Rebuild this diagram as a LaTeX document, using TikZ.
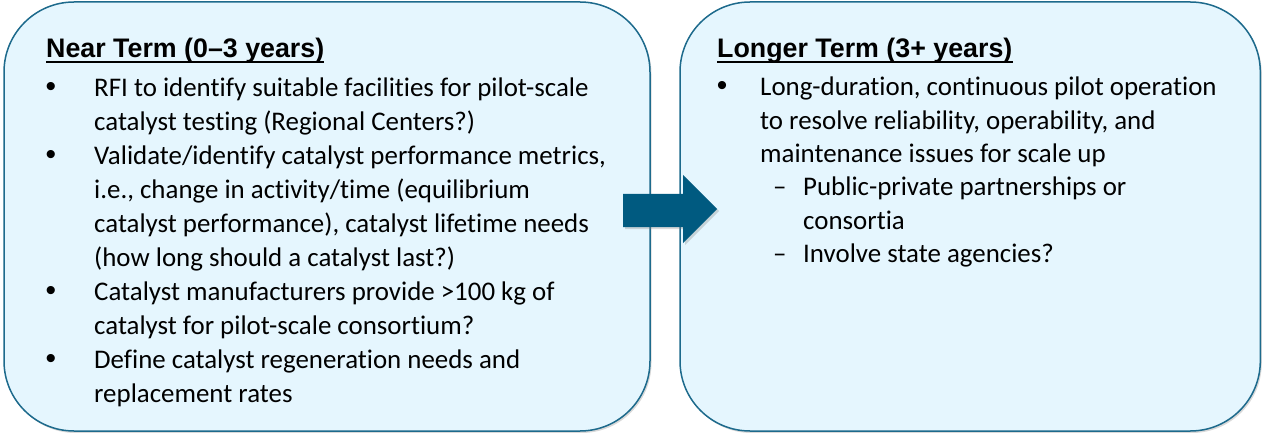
\documentclass[tikz,border=0pt]{standalone}
\usepackage{fontspec}
\setmainfont{Carlito}[Ligatures={NoCommon}]
\newfontfamily\headfont{Liberation Sans}
\usetikzlibrary{shadows}
\definecolor{boxfill}{HTML}{E5F6FE}
\definecolor{boxline}{HTML}{1D6A8C}
\definecolor{arrowblue}{HTML}{005A80}
\tikzset{
  panel/.style={draw=boxline, line width=1.5pt, fill=boxfill, rounded corners=70pt,
    drop shadow={shadow xshift=1.5pt, shadow yshift=-2pt, opacity=0.3, fill=gray}},
  head/.style={font=\headfont\bfseries\fontsize{26.8}{30}\selectfont, anchor=base west, inner sep=0pt},
  body/.style={font=\fontsize{26.9}{33}\selectfont, anchor=base west, inner sep=0pt},
  bul/.style={font=\headfont\fontsize{30}{34}\selectfont, anchor=base, inner sep=0pt},
  ul/.style={line width=2pt}
}
\begin{document}
\begin{tikzpicture}[x=1pt,y=-1pt]
\useasboundingbox (0,0) rectangle (1262,433);
% panels
\path[panel] (4,2) rectangle (650,431);
\path[panel] (680,2) rectangle (1260.3,431);
% arrow
\path[fill=arrowblue, drop shadow={shadow xshift=2pt, shadow yshift=-2pt, opacity=0.3, fill=gray}]
  (623,194) -- (683,194) -- (683,175) -- (717,209) -- (683,243) -- (683,227) -- (623,227) -- cycle;
% left panel
\node[head] (h1) at (46,58) {Near Term (0–3 years)};
\draw[ul] ([yshift=-4pt]h1.base west) -- ([yshift=-4pt]h1.base east);
\node[bul] (b1) at (51,97) {•};
\node[body] (l1) at (94,97) {RFI to identify suitable facilities for pilot-scale};
\node[body] (l2) at (94,130.9) {catalyst testing (Regional Centers?)};
\node[bul] (b2) at (51,164.8) {•};
\node[body] (l3) at (94,164.8) {Validate/identify catalyst performance metrics,};
\node[body] (l4) at (94,198.7) {i.e., change in activity/time (equilibrium};
\node[body] (l5) at (94,232.6) {catalyst performance), catalyst lifetime needs};
\node[body] (l6) at (94,266.5) {(how long should a catalyst last?)};
\node[bul] (b3) at (51,300.4) {•};
\node[body] (l7) at (94,300.4) {Catalyst manufacturers provide >100 kg of};
\node[body] (l8) at (94,334.3) {catalyst for pilot-scale consortium?};
\node[bul] (b4) at (51,368.2) {•};
\node[body] (l9) at (94,368.2) {Define catalyst regeneration needs and};
\node[body] (l10) at (94,402.1) {replacement rates};
% right panel
\node[head] (h2) at (717,58) {Longer Term (3+ years)};
\draw[ul] ([yshift=-4pt]h2.base west) -- ([yshift=-4pt]h2.base east);
\node[bul] (rb1) at (722,96) {•};
\node[body] (r1) at (760,96) {Long-duration, continuous pilot operation};
\node[body] (r2) at (760,129.3) {to resolve reliability, operability, and};
\node[body] (r3) at (760,162.6) {maintenance issues for scale up};
\node[body] (rd1) at (773,195.9) {–};
\node[body] (r4) at (803,195.9) {Public-private partnerships or};
\node[body] (r5) at (803,229.2) {consortia};
\node[body] (rd2) at (773,262.5) {–};
\node[body] (r6) at (803,262.5) {Involve state agencies?};
\end{tikzpicture}
\end{document}
